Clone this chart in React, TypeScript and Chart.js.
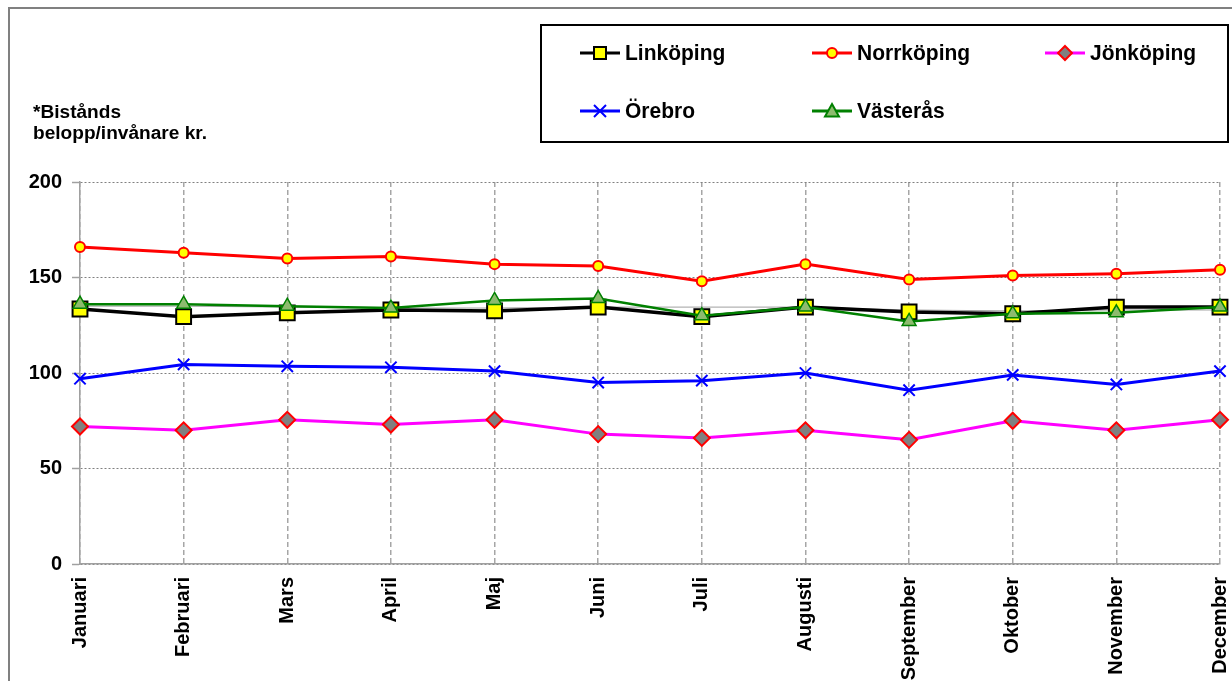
import React, { useEffect, useRef } from "react";
import { Chart, registerables } from "chart.js";

Chart.register(...registerables);

const months = ["Januari", "Februari", "Mars", "April", "Maj", "Juni", "Juli", "Augusti", "September", "Oktober", "November", "December"];
const linkoping = [133.5, 129.5, 131.5, 133, 132.5, 134.5, 129.5, 134.5, 132, 131, 134.5, 134.5];
const norrkoping = [166, 163, 160, 161, 157, 156, 148, 157, 149, 151, 152, 154];
const jonkoping = [72, 70, 75.5, 73, 75.5, 68, 66, 70, 65, 75, 70, 75.5];
const orebro = [97, 104.5, 103.5, 103, 101, 95, 96, 100, 91, 99, 94, 101];
const vasteras = [136, 136, 135, 134, 138, 139, 130, 134.5, 127, 131, 131.5, 134.5];
const reference = [135, 135, 134.5, 134, 134, 134.5, 134.5, 134.5, 133, 132.5, 133, 133];
const yTicks = [0, 50, 100, 150, 200];
const yLabelLines = ["*Bistånds", "belopp/invånare kr."];

const FONT = '"Liberation Sans", Arial, sans-serif';

type MarkerKind = "rect" | "circle" | "diamond" | "cross" | "triangle";

function drawMarker(ctx: CanvasRenderingContext2D, kind: MarkerKind, x: number, y: number, s: number, fill: string, stroke: string) {
  ctx.save();
  ctx.lineWidth = 2;
  ctx.strokeStyle = stroke;
  ctx.fillStyle = fill;
  ctx.beginPath();
  if (kind === "rect") {
    ctx.rect(x - s, y - s, 2 * s, 2 * s);
    ctx.fill();
    ctx.stroke();
  } else if (kind === "circle") {
    ctx.arc(x, y, s, 0, Math.PI * 2);
    ctx.fill();
    ctx.stroke();
  } else if (kind === "diamond") {
    ctx.moveTo(x, y - s);
    ctx.lineTo(x + s, y);
    ctx.lineTo(x, y + s);
    ctx.lineTo(x - s, y);
    ctx.closePath();
    ctx.fill();
    ctx.stroke();
  } else if (kind === "cross") {
    ctx.moveTo(x - s, y - s);
    ctx.lineTo(x + s, y + s);
    ctx.moveTo(x + s, y - s);
    ctx.lineTo(x - s, y + s);
    ctx.stroke();
  } else if (kind === "triangle") {
    ctx.moveTo(x, y - s);
    ctx.lineTo(x + s, y + s * 0.8);
    ctx.lineTo(x - s, y + s * 0.8);
    ctx.closePath();
    ctx.fill();
    ctx.stroke();
  }
  ctx.restore();
}

const legendItems = [
  { label: "Linköping", line: "#000000", kind: "rect" as MarkerKind, fill: "#ffff00", stroke: "#000000", size: 6, x: 570, y: 44 },
  { label: "Norrköping", line: "#ff0000", kind: "circle" as MarkerKind, fill: "#ffff00", stroke: "#ff0000", size: 5, x: 802, y: 44 },
  { label: "Jönköping", line: "#ff00ff", kind: "diamond" as MarkerKind, fill: "#808080", stroke: "#ff0000", size: 7, x: 1035, y: 44 },
  { label: "Örebro", line: "#0000ff", kind: "cross" as MarkerKind, fill: "#0000ff", stroke: "#0000ff", size: 6, x: 570, y: 102 },
  { label: "Västerås", line: "#008000", kind: "triangle" as MarkerKind, fill: "#8dbb6e", stroke: "#008000", size: 7, x: 802, y: 102 },
];

const overlayPlugin = {
  id: "overlay",
  afterDraw(chart: any) {
    const ctx: CanvasRenderingContext2D = chart.ctx;
    ctx.save();
    // y-axis caption
    ctx.fillStyle = "#000";
    ctx.font = `bold 18px ${FONT}`;
    ctx.textAlign = "left";
    ctx.textBaseline = "alphabetic";
    const w = ctx.measureText(yLabelLines[1]).width;
    const sx = 174 / w;
    ctx.save();
    ctx.translate(23, 0);
    ctx.scale(sx, 1);
    ctx.fillText(yLabelLines[0], 0, 109);
    ctx.fillText(yLabelLines[1], 0, 130);
    ctx.restore();
    // legend box
    ctx.lineWidth = 2;
    ctx.strokeStyle = "#000";
    ctx.strokeRect(531, 16, 687, 117);
    ctx.font = `bold 21px ${FONT}`;
    ctx.textBaseline = "middle";
    for (const it of legendItems) {
      ctx.beginPath();
      ctx.strokeStyle = it.line;
      ctx.lineWidth = 3;
      ctx.moveTo(it.x, it.y);
      ctx.lineTo(it.x + 40, it.y);
      ctx.stroke();
      drawMarker(ctx, it.kind, it.x + 20, it.y, it.size, it.fill, it.stroke);
      ctx.fillStyle = "#000";
      ctx.save();
      ctx.translate(it.x + 45, it.y + 1);
      ctx.scale(1, 1.08);
      ctx.fillText(it.label, 0, 0);
      ctx.restore();
    }
    ctx.restore();
  },
};

export default function App() {
  const ref = useRef<HTMLCanvasElement | null>(null);

  useEffect(() => {
    if (!ref.current) return;
    const chart = new Chart(ref.current, {
      type: "line",
      data: {
        labels: months,
        datasets: [
          {
            label: "Västerås",
            data: vasteras,
            borderColor: "#008000",
            borderWidth: 2.5,
            pointStyle: "triangle",
            pointRadius: 8,
            pointBackgroundColor: "#8dbb6e",
            pointBorderColor: "#008000",
            pointBorderWidth: 1.5,
            tension: 0,
            order: 1,
          },
          {
            label: "Örebro",
            data: orebro,
            borderColor: "#0000ff",
            borderWidth: 3,
            pointStyle: "crossRot",
            pointRadius: 8,
            pointBorderColor: "#0000ff",
            pointBorderWidth: 2,
            tension: 0,
            order: 2,
          },
          {
            label: "Jönköping",
            data: jonkoping,
            borderColor: "#ff00ff",
            borderWidth: 3,
            pointStyle: "rectRot",
            pointRadius: 8,
            pointBackgroundColor: "#808080",
            pointBorderColor: "#ff0000",
            pointBorderWidth: 2,
            tension: 0,
            order: 3,
          },
          {
            label: "Norrköping",
            data: norrkoping,
            borderColor: "#ff0000",
            borderWidth: 3,
            pointStyle: "circle",
            pointRadius: 5,
            pointBackgroundColor: "#ffff00",
            pointBorderColor: "#ff0000",
            pointBorderWidth: 2,
            tension: 0,
            order: 4,
          },
          {
            label: "Linköping",
            data: linkoping,
            borderColor: "#000000",
            borderWidth: 3.5,
            pointStyle: "rect",
            pointRadius: 10.5,
            pointBackgroundColor: "#ffff00",
            pointBorderColor: "#000000",
            pointBorderWidth: 2,
            tension: 0,
            order: 5,
          },
          {
            label: "ref",
            data: reference,
            borderColor: "#a0a0a0",
            borderWidth: 1,
            pointRadius: 0,
            tension: 0,
            order: 6,
          },
        ],
      },
      options: {
        animation: false,
        responsive: false,
        maintainAspectRatio: false,
        devicePixelRatio: 1,
        layout: { padding: { top: 173, right: 90, bottom: 0, left: 0 } },
        plugins: { legend: { display: false }, tooltip: { enabled: false }, title: { display: false } },
        scales: {
          x: {
            offset: false,
            grid: { color: "#a6a6a6", lineWidth: 1.5, drawTicks: false },
            border: { display: true, color: "#a0a0a0", width: 1.5, dash: [5, 3] },
            ticks: {
              autoSkip: false,
              minRotation: 90,
              maxRotation: 90,
              padding: 13,
              color: "#000",
              font: { family: FONT, size: 20, weight: "bold" },
            },
            afterFit(scale: any) {
              scale.height = 117;
            },
          },
          y: {
            min: 0,
            max: 200,
            afterBuildTicks(scale: any) {
              scale.ticks = yTicks.map((v) => ({ value: v }));
            },
            grid: { color: "#808080", lineWidth: 1, drawTicks: true, tickLength: 8, tickColor: "#a0a0a0", tickWidth: 1.5 },
            border: { display: true, color: "#a0a0a0", width: 1.5, dash: [2, 2] },
            ticks: {
              padding: 10,
              color: "#000",
              font: { family: FONT, size: 20, weight: "bold" },
            },
            afterFit(scale: any) {
              scale.width = 70;
            },
          },
        },
      },
      plugins: [overlayPlugin],
    } as any);
    return () => chart.destroy();
  }, []);

  return (
    <div
      style={{
        position: "absolute",
        left: 8,
        top: 7,
        width: 1224,
        height: 674,
        boxSizing: "border-box",
        borderLeft: "2px solid #808080",
        borderTop: "2px solid #808080",
        overflow: "hidden",
        background: "#fff",
      }}
    >
      <canvas ref={ref} width={1300} height={672} style={{ display: "block", width: 1300, height: 672 }} />
    </div>
  );
}
